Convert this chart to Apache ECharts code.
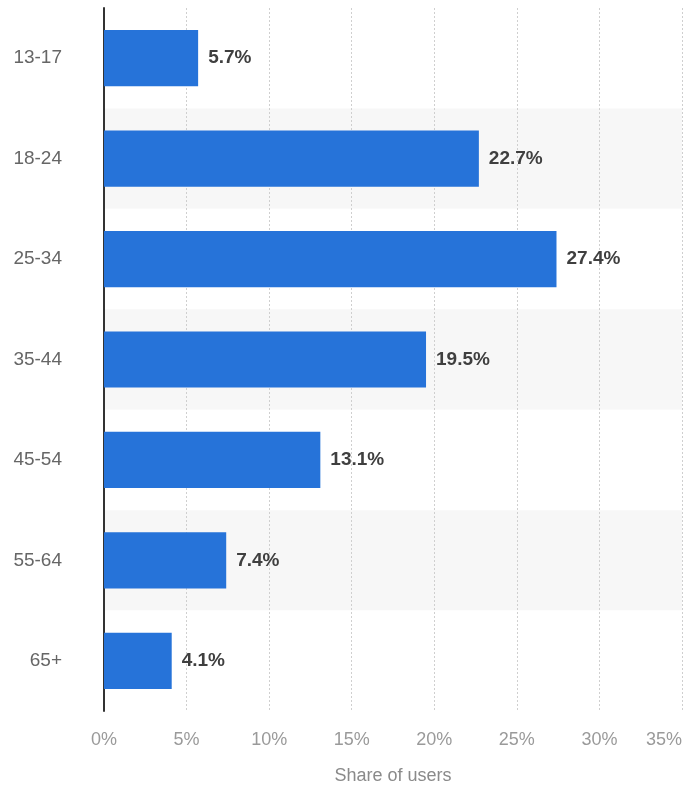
<!doctype html>
<html>
    <head>
        <meta charset="utf-8">
        <title>Share of users by age</title>
        <style>
            html, body { margin: 0; padding: 0; background: #fff; }
            #main { width: 685px; height: 790px; }
        </style>
    </head>
    <body>
        <div id="main"></div>
        <script src="https://cdn.jsdelivr.net/npm/echarts@6/dist/echarts.min.js"></script>
        <script>
            var ageGroups = ['13-17', '18-24', '25-34', '35-44', '45-54', '55-64', '65+'];
            var shareOfUsers = [5.7, 22.7, 27.4, 19.5, 13.1, 7.4, 4.1];

            var chart = echarts.init(document.getElementById('main'));

            chart.setOption({
                backgroundColor: '#fff',
                textStyle: { fontFamily: 'Liberation Sans, Arial, sans-serif' },
                grid: {
                    left: 104,
                    right: 1,
                    top: 8,
                    bottom: 74
                },
                xAxis: {
                    type: 'value',
                    min: 0,
                    max: 35,
                    interval: 5,
                    name: 'Share of users',
                    nameLocation: 'middle',
                    nameGap: 56,
                    nameTextStyle: { color: '#8a8a8a', fontSize: 18 },
                    axisLine: { show: false },
                    axisTick: { show: false },
                    axisLabel: {
                        color: '#9a9a9a',
                        fontSize: 18,
                        margin: 20,
                        alignMaxLabel: 'right',
                        formatter: '{value}%'
                    },
                    splitLine: {
                        show: true,
                        lineStyle: { color: '#cfcfcf', type: [2, 2], width: 1 }
                    }
                },
                yAxis: {
                    type: 'category',
                    data: ageGroups,
                    inverse: true,
                    axisLine: { show: true, lineStyle: { color: '#333', width: 2 } },
                    axisTick: { show: false },
                    axisLabel: { color: '#666', fontSize: 19, margin: 42 },
                    splitLine: { show: false },
                    splitArea: {
                        show: true,
                        areaStyle: { color: ['#ffffff', '#f7f7f7'] }
                    }
                },
                series: [{
                    type: 'bar',
                    data: shareOfUsers,
                    barCategoryGap: '44%',
                    itemStyle: { color: '#2673d9' },
                    label: {
                        show: true,
                        position: 'right',
                        distance: 10,
                        formatter: '{c}%',
                        color: '#3f3f3f',
                        fontSize: 19,
                        fontWeight: 'bold'
                    },
                    silent: true
                }]
            });

            window.addEventListener('resize', function () {
                chart.resize();
            });
        </script>
    </body>
</html>
